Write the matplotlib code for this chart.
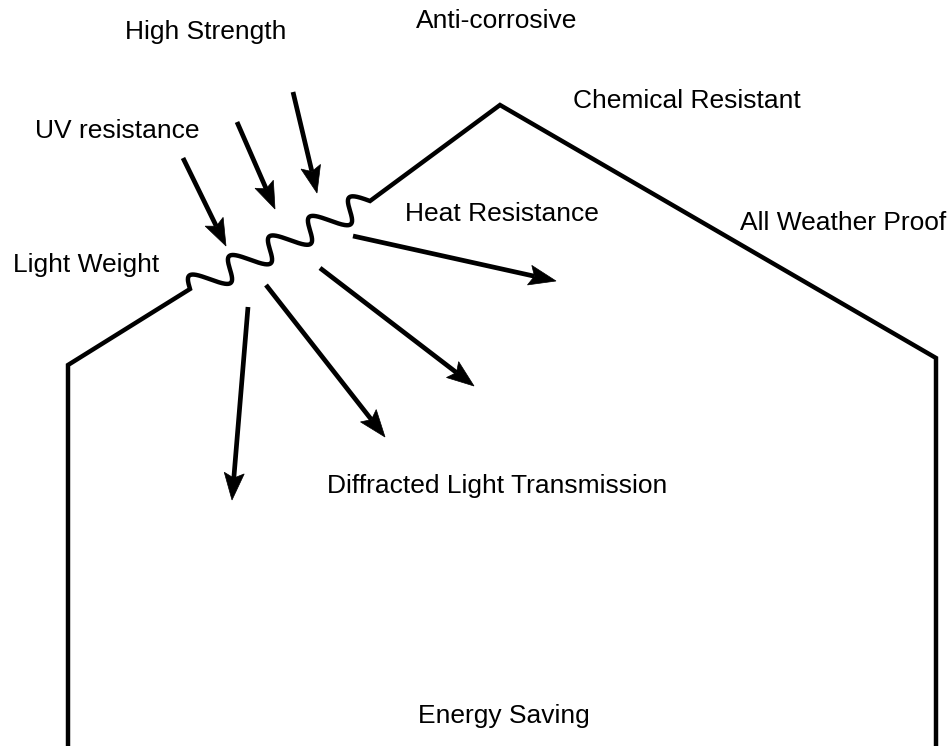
import numpy as np
import matplotlib
matplotlib.use('Agg')
import matplotlib.pyplot as plt
from matplotlib.patches import Polygon

### Data (image pixel coordinates, y grows downward)
# house outline: left wall + left eave, then the wavy panel, then the rest of the roof
left_x = [68, 68, 190]
left_y = [746, 365, 289]
right_x = [370, 500, 936, 936]
right_y = [201, 105, 358, 746]
wave_start = (190, 289)
wave_end = (370, 201)
wave_cycles = 4.5
wave_amp = 12.5
wave_skew = 5

# arrows: (x0, y0) -> (x1, y1)
arrow_x0 = [183, 237, 293, 353, 320, 266, 248]
arrow_y0 = [158, 122, 92, 236, 268, 285, 307]
arrow_x1 = [226, 275, 317, 556, 474, 385, 232]
arrow_y1 = [246, 209, 193, 281, 386, 437, 500]

labels = ['High Strength', 'Anti-corrosive', 'Chemical Resistant', 'UV resistance',
          'All Weather Proof', 'Heat Resistance', 'Light Weight',
          'Diffracted Light Transmission', 'Energy Saving']
label_x = [125, 416, 573, 35, 740, 405, 13, 327, 418]
label_y = [39, 28, 108, 138, 230, 221, 272, 493, 723]

LW = 3.2
FONT = ['Liberation Sans', 'DejaVu Sans']


def wavy(p0, p1, cycles, amp, skew, n=600):
    '''sine wave laid along the segment p0 -> p1, with a steep rising edge'''
    p0 = np.asarray(p0, float)
    p1 = np.asarray(p1, float)
    d = p1 - p0
    L = np.hypot(*d)
    u = d / L
    nrm = np.array([u[1], -u[0]])  # points "up" on screen
    s = np.linspace(0, L, n)
    th = 2 * np.pi * cycles * s / L
    along = s - skew * np.sin(th)
    off = amp * np.sin(th)
    pts = p0 + np.outer(along, u) + np.outer(off, nrm)
    return pts[:, 0], pts[:, 1]


def draw_arrow(ax, x0, y0, x1, y1, head_len=27, head_half=10, notch=5):
    p0 = np.array([x0, y0], float)
    p1 = np.array([x1, y1], float)
    u = (p1 - p0) / np.hypot(*(p1 - p0))
    nrm = np.array([-u[1], u[0]])
    base = p1 - u * head_len
    ax.plot([p0[0], base[0] + u[0] * notch], [p0[1], base[1] + u[1] * notch],
            color='black', lw=LW + 0.2, solid_capstyle='butt')
    head = [p1, base + nrm * head_half, base + u * notch, base - nrm * head_half]
    ax.add_patch(Polygon(head, closed=True, facecolor='black', edgecolor='black', lw=0.5))


fig = plt.figure(figsize=(9.51, 7.46), dpi=100)
ax = fig.add_axes([0, 0, 1, 1])
ax.set_xlim(0, 951)
ax.set_ylim(746, 0)
ax.axis('off')

wx, wy = wavy(wave_start, wave_end, wave_cycles, wave_amp, wave_skew)
xs = np.concatenate([left_x, wx, right_x])
ys = np.concatenate([left_y, wy, right_y])
ax.plot(xs, ys, color='black', lw=LW, solid_joinstyle='miter', solid_capstyle='butt')

for x0, y0, x1, y1 in zip(arrow_x0, arrow_y0, arrow_x1, arrow_y1):
    draw_arrow(ax, x0, y0, x1, y1)

for t, x, y in zip(labels, label_x, label_y):
    ax.text(x, y, t, ha='left', va='baseline', fontsize=19, family=FONT, color='black')

fig.savefig('out.png', dpi=100)
